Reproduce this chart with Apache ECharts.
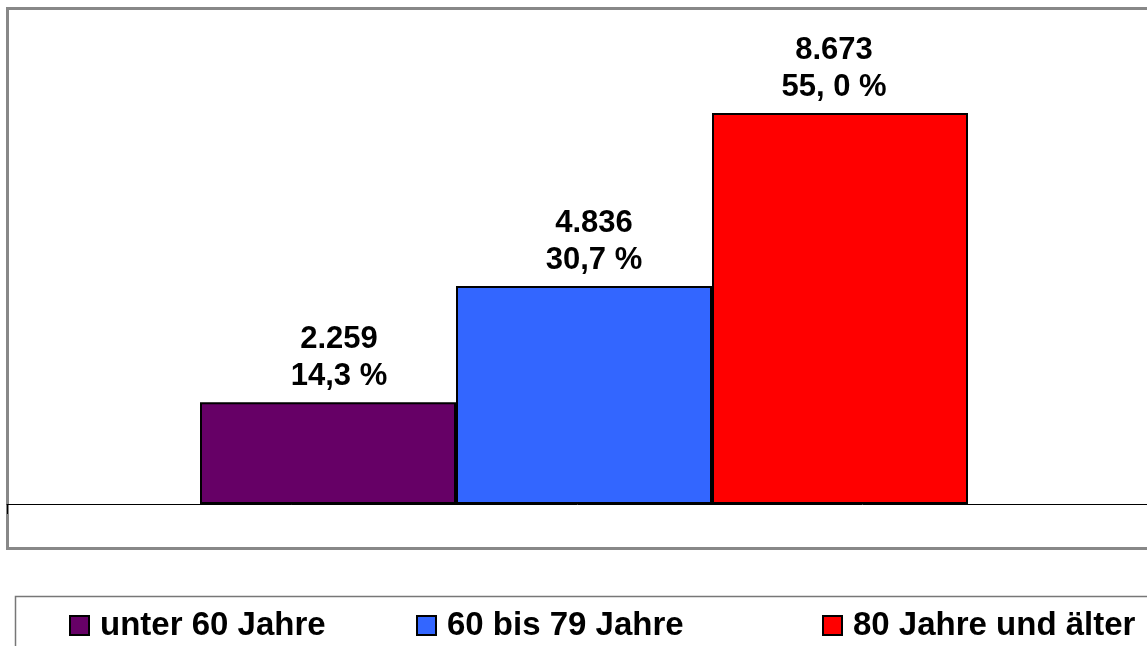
<!DOCTYPE html>
<html>
<head>
<meta charset="utf-8">
<script src="https://cdn.jsdelivr.net/npm/echarts@6/dist/echarts.min.js"></script>
<style>
  html, body { margin: 0; padding: 0; background: #fff; }
  #main { width: 1147px; height: 646px; }
</style>
</head>
<body>
<div id="main"></div>
<script>
// Altersgruppen
var groups = ['unter 60 Jahre', '60 bis 79 Jahre', '80 Jahre und älter'];
var counts = [2259, 4836, 8673];
var countLabels = ['2.259', '4.836', '8.673'];
var shareLabels = ['14,3 %', '30,7 %', '55, 0 %'];
var colors = ['#660066', '#3366FF', '#FF0000'];
var labelShift = [11, 10, -6];
var legendLeft = [64, 411, 817];

var myChart = echarts.init(document.getElementById('main'));

var series = groups.map(function (name, i) {
    return {
        name: name,
        type: 'bar',
        barWidth: 256,
        barGap: '0%',
        data: [counts[i]],
        itemStyle: { color: colors[i], borderColor: '#000', borderWidth: 2 },
        label: {
            show: true,
            position: 'top',
            distance: 7,
            offset: [labelShift[i], 0],
            color: '#000',
            fontFamily: 'Liberation Sans',
            fontWeight: 'bold',
            fontSize: 31,
            lineHeight: 37,
            formatter: function () {
                return countLabels[i] + '\n' + shareLabels[i];
            }
        }
    };
});

var legends = groups.map(function (name, i) {
    return {
        data: [name],
        left: legendLeft[i],
        top: 604,
        itemWidth: 19,
        itemHeight: 19,
        icon: 'rect',
        textStyle: {
            color: '#000',
            fontFamily: 'Liberation Sans',
            fontWeight: 'bold',
            fontSize: 33,
            padding: [0, 0, 0, 6]
        }
    };
});

var option = {
    animation: false,
    backgroundColor: '#fff',
    grid: { left: 7, top: 8, width: 1154, height: 496, outerBoundsMode: 'none' },
    xAxis: {
        type: 'category',
        data: [''],
        axisLine: { lineStyle: { color: '#000', width: 1 } },
        axisTick: { show: true, length: 10, lineStyle: { color: '#000' } },
        axisLabel: { show: false }
    },
    yAxis: {
        type: 'value',
        min: 0,
        max: 11000,
        show: false,
        splitLine: { show: false }
    },
    legend: legends,
    graphic: [
        {
            type: 'rect',
            z: -1,
            shape: { x: 7.5, y: 8.5, width: 1160, height: 540 },
            style: { fill: 'none', stroke: '#888', lineWidth: 3 }
        },
        {
            type: 'rect',
            z: -1,
            shape: { x: 15.5, y: 596.5, width: 1160, height: 100 },
            style: { fill: 'none', stroke: '#777', lineWidth: 1.5 }
        }
    ],
    series: series
};

myChart.setOption(option);
</script>
</body>
</html>
